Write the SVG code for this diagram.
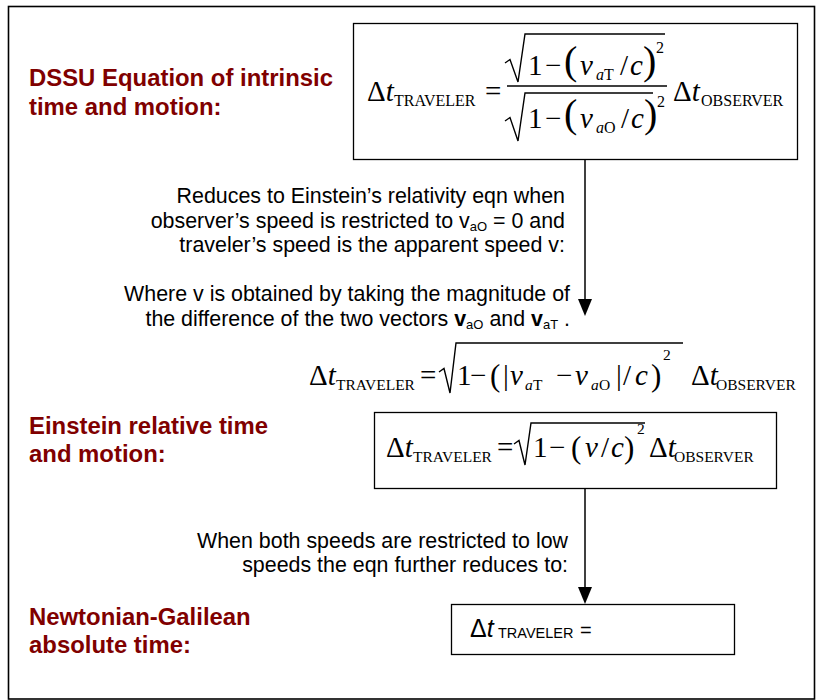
<svg xmlns="http://www.w3.org/2000/svg" width="817" height="700" viewBox="0 0 817 700">
<style>
.title{font-family:"Liberation Sans",Arial,sans-serif;font-weight:bold;font-size:23.9px;fill:#800000}
.body{font-family:"Liberation Sans",Arial,sans-serif;font-size:21.4px;fill:#000}
.bsub{font-size:13px}
.eq{font-family:"Liberation Serif","Times New Roman",serif;font-size:29px;fill:#000}
.sub{font-family:"Liberation Serif","Times New Roman",serif;font-size:15.5px;fill:#000}
.sub16{font-family:"Liberation Serif","Times New Roman",serif;font-size:16px;fill:#000}
.par{font-family:"Liberation Serif","Times New Roman",serif;font-size:31px;fill:#000}
.bigpar{font-family:"Liberation Serif","Times New Roman",serif;font-size:40px;fill:#000}
.it{font-style:italic}
.box{fill:#fff;stroke:#000;stroke-width:1.3}
.rad{fill:none;stroke:#000;stroke-width:1.4;stroke-linejoin:miter}
.conn{stroke:#000;stroke-width:1.5;fill:none}
</style>
<rect width="817" height="700" fill="#fff"/>
<rect id="frame" x="8.5" y="6.5" width="806" height="692.5" fill="none" stroke="#000" stroke-width="1.6"/>

<g id="connectors">
<line class="conn" x1="585" y1="159" x2="585" y2="300"/>
<path d="M578,299 L592,299 L585,316 Z" fill="#000"/>
<line class="conn" x1="585" y1="488" x2="585" y2="588"/>
<path d="M578,587 L592,587 L585,604 Z" fill="#000"/>
</g>

<g id="label-dssu">
<text class="title" x="29" y="86">DSSU Equation of intrinsic</text>
<text class="title" x="29" y="115">time and motion:</text>
</g>

<g id="node-dssu">
<rect class="box" x="353.5" y="23.5" width="444" height="136"/>
<text class="eq" x="367" y="101">Δ<tspan class="it">t</tspan></text>
<text class="sub16" x="394" y="106">TRAVELER</text>
<text class="eq" x="485" y="101">=</text>
<line x1="507" y1="86" x2="667" y2="86" stroke="#000" stroke-width="1.3"/>
<path class="rad" d="M505,63 L510,59.5 L518,82 L525,34 L665,34"/>
<text class="eq" x="528" y="75">1</text>
<text class="eq" x="545" y="75">−</text>
<text class="bigpar" x="564" y="74">(</text>
<text class="eq it" x="580" y="75">v</text>
<text class="sub16 it" x="596" y="80">a</text>
<text class="sub16" x="604" y="80">T</text>
<text class="eq" x="620" y="75">/</text>
<text class="eq it" x="630" y="75">c</text>
<text class="bigpar" x="643" y="74">)</text>
<text class="sub16" x="656" y="53">2</text>
<path class="rad" d="M505,121 L510,117.5 L518,141 L525,93 L653,93"/>
<text class="eq" x="528" y="128">1</text>
<text class="eq" x="545" y="128">−</text>
<text class="bigpar" x="564" y="127">(</text>
<text class="eq it" x="580" y="128">v</text>
<text class="sub16 it" x="596" y="133">a</text>
<text class="sub16" x="604" y="133">O</text>
<text class="eq" x="621" y="128">/</text>
<text class="eq it" x="631" y="128">c</text>
<text class="bigpar" x="644" y="127">)</text>
<text class="sub16" x="657" y="107">2</text>
<text class="eq" x="673" y="101">Δ<tspan class="it">t</tspan></text>
<text class="sub16" x="701" y="106">OBSERVER</text>
</g>

<g id="note-reduces">
<text class="body" x="565" y="203" text-anchor="end">Reduces to Einstein’s relativity eqn when</text>
<text class="body" x="565" y="228" text-anchor="end">observer’s speed is restricted to v<tspan class="bsub" dy="3">aO</tspan><tspan dy="-3"> = 0 and</tspan></text>
<text class="body" x="565" y="252" text-anchor="end">traveler’s speed is the apparent speed v:</text>
<text class="body" x="570" y="301" text-anchor="end">Where v is obtained by taking the magnitude of</text>
<text class="body" x="570" y="326" text-anchor="end">the difference of the two vectors <tspan font-weight="bold">v</tspan><tspan class="bsub" dy="3">aO</tspan><tspan dy="-3"> and </tspan><tspan font-weight="bold">v</tspan><tspan class="bsub" dy="3">aT</tspan><tspan dy="-3"> .</tspan></text>
</g>

<g id="eq-intermediate">
<text class="eq" x="309" y="385">Δ<tspan class="it">t</tspan></text>
<text class="sub" x="336" y="390">TRAVELER</text>
<text class="eq" x="420" y="385">=</text>
<path class="rad" d="M439,372 L444,368.5 L450,393 L456,343 L683,343"/>
<text class="eq" x="457" y="385">1</text>
<text class="eq" x="470" y="385">−</text>
<text class="par" x="490" y="386">(</text>
<text class="eq" x="503" y="385">|</text>
<text class="eq it" x="510" y="385">v</text>
<text class="sub it" x="525" y="390">a</text>
<text class="sub" x="533" y="390">T</text>
<text class="eq" x="556" y="385">−</text>
<text class="eq it" x="575" y="385">v</text>
<text class="sub it" x="591" y="390">a</text>
<text class="sub" x="599" y="390">O</text>
<text class="eq" x="616" y="385">|</text>
<text class="eq" x="623" y="385">/</text>
<text class="eq it" x="635" y="385">c</text>
<text class="par" x="651" y="386">)</text>
<text class="sub" x="663" y="360">2</text>
<text class="eq" x="691" y="385">Δ<tspan class="it">t</tspan></text>
<text class="sub" x="716" y="390">OBSERVER</text>
</g>

<g id="label-einstein">
<text class="title" x="29" y="434">Einstein relative time</text>
<text class="title" x="29" y="462">and motion:</text>
</g>

<g id="node-einstein">
<rect class="box" x="374.5" y="412.5" width="402" height="76"/>
<text class="eq" x="386" y="457">Δ<tspan class="it">t</tspan></text>
<text class="sub" x="413" y="462">TRAVELER</text>
<text class="eq" x="497" y="457">=</text>
<path class="rad" d="M514,444 L519,440.5 L525,465 L531,423 L645,423"/>
<text class="eq" x="533" y="457">1</text>
<text class="eq" x="549" y="457">−</text>
<text class="par" x="571" y="458">(</text>
<text class="eq it" x="585" y="457">v</text>
<text class="eq" x="601" y="457">/</text>
<text class="eq it" x="611" y="457">c</text>
<text class="par" x="624" y="458">)</text>
<text class="sub" x="637" y="434">2</text>
<text class="eq" x="649" y="457">Δ<tspan class="it">t</tspan></text>
<text class="sub" x="674" y="462">OBSERVER</text>
</g>

<g id="note-low">
<text class="body" x="568" y="548" text-anchor="end">When both speeds are restricted to low</text>
<text class="body" x="568" y="572" text-anchor="end">speeds the eqn further reduces to:</text>
</g>

<g id="label-newton">
<text class="title" x="29" y="625">Newtonian-Galilean</text>
<text class="title" x="29" y="653">absolute time:</text>
</g>

<g id="node-newton">
<rect class="box" x="451.5" y="604.5" width="283" height="50"/>
<text font-family="Liberation Sans, Arial, sans-serif" font-size="25" x="470" y="637">Δ<tspan font-style="italic">t</tspan></text>
<text font-family="Liberation Sans, Arial, sans-serif" font-size="14.5" x="498" y="638">TRAVELER</text>
<text font-family="Liberation Sans, Arial, sans-serif" font-size="20" x="580" y="637">=</text>
</g>
</svg>
